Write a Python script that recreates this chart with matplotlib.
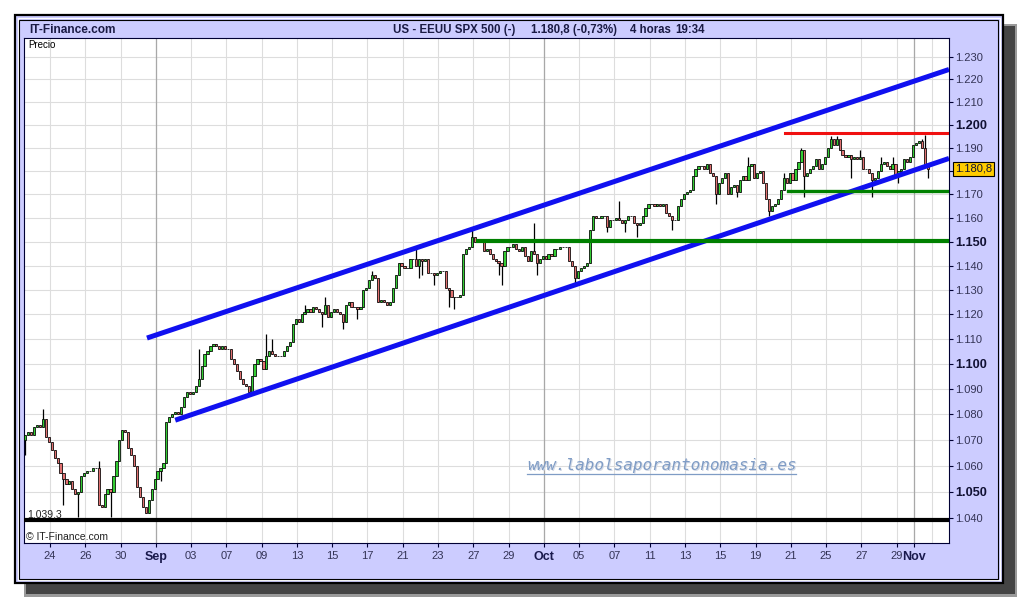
import matplotlib
matplotlib.use("Agg")
import matplotlib.pyplot as plt
from matplotlib.patches import Rectangle
from matplotlib.lines import Line2D
from matplotlib.ticker import FixedLocator, NullLocator

plt.rcParams['font.family'] = ['Liberation Sans', 'DejaVu Sans']

# SPX 500 - barras de 4 horas
first_open = 1070
closes = [
    1072, 1073, 1072, 1075, 1076, 1075, 1078, 1071, 1069, 1066,
    1063, 1061, 1057, 1055, 1053, 1054, 1051, 1049, 1050, 1056,
    1057, 1058, 1058, 1059, 1059, 1045, 1044, 1049, 1051, 1050,
    1056, 1062, 1070, 1074, 1073, 1067, 1064, 1060, 1052, 1048,
    1044, 1042, 1047, 1051, 1055, 1058, 1059, 1061, 1077, 1079,
    1080, 1081, 1080, 1083, 1087, 1089, 1088, 1089, 1091, 1094,
    1099, 1104, 1105, 1107, 1108, 1107, 1106, 1107, 1106, 1106,
    1102, 1100, 1097, 1094, 1092, 1091, 1089, 1095, 1100, 1102,
    1101, 1098, 1103, 1105, 1104, 1103, 1103, 1103, 1105, 1107,
    1109, 1116, 1118, 1117, 1120, 1121, 1122, 1121, 1123, 1122,
    1121, 1120, 1124, 1119, 1121, 1122, 1121, 1120, 1117, 1124,
    1125, 1123, 1123, 1122, 1123, 1130, 1131, 1134, 1136, 1135,
    1125, 1126, 1125, 1124, 1125, 1131, 1136, 1141, 1140, 1139,
    1139, 1143, 1143, 1140, 1143, 1142, 1143, 1137, 1137, 1136,
    1137, 1138, 1138, 1131, 1130, 1127, 1127, 1127, 1128, 1145,
    1147, 1148, 1152, 1150, 1150, 1150, 1146, 1147, 1145, 1143,
    1142, 1141, 1140, 1146, 1148, 1148, 1149, 1147, 1146, 1148,
    1144, 1142, 1146, 1145, 1141, 1143, 1144, 1143, 1145, 1144,
    1147, 1147, 1148, 1148, 1148, 1142, 1140, 1135, 1138, 1139,
    1140, 1141, 1155, 1161, 1160, 1160, 1161, 1161, 1156, 1159,
    1159, 1160, 1159, 1158, 1159, 1161, 1161, 1158, 1157, 1158,
    1161, 1164, 1166, 1166, 1165, 1166, 1165, 1166, 1162, 1161,
    1159, 1159, 1165, 1168, 1170, 1171, 1172, 1178, 1181, 1182,
    1182, 1181, 1183, 1179, 1178, 1170, 1175, 1177, 1179, 1170,
    1173, 1174, 1171, 1176, 1178, 1176, 1182, 1183, 1177, 1179,
    1180, 1175, 1168, 1163, 1165, 1166, 1168, 1172, 1177, 1175,
    1179, 1176, 1181, 1184, 1189, 1178, 1179, 1181, 1182, 1185,
    1181, 1183, 1186, 1190, 1194, 1191, 1194, 1189, 1187, 1186,
    1187, 1185, 1186, 1185, 1186, 1181, 1181, 1179, 1176, 1177,
    1180, 1183, 1184, 1182, 1181, 1183, 1178, 1180, 1181, 1185,
    1184, 1186, 1191, 1192, 1193, 1190, 1183, 1180.8,
]
# mechas largas (maximos / minimos que salen del cuerpo)
spike_highs = {6: 1082, 25: 1062, 59: 1106, 82: 1112, 84: 1110, 95: 1124,
               102: 1127, 118: 1138, 133: 1148, 152: 1155, 173: 1158,
               202: 1167, 246: 1186, 258: 1179, 264: 1190, 274: 1195,
               276: 1195, 284: 1189, 291: 1186, 295: 1186, 305: 1194,
               306: 1195.5}
spike_lows = {0: 1064, 13: 1045, 18: 1040.5, 29: 1040.5, 46: 1054, 76: 1088,
              101: 1115, 108: 1114, 113: 1118, 134: 1135, 135: 1136,
              139: 1132, 144: 1123, 146: 1122, 161: 1136, 162: 1132,
              174: 1136, 187: 1133, 198: 1154, 204: 1154, 208: 1152,
              220: 1155, 235: 1166, 242: 1169, 253: 1161, 265: 1169,
              281: 1177, 288: 1169, 297: 1175, 307: 1177}

# eje x: dias habiles desde el 24 de agosto
tick_days = [0, 2, 4, 6, 8, 10, 12, 14, 16, 18, 20, 22, 24, 26,
             28, 30, 32, 34, 36, 38, 40, 42, 44, 46, 48, 49]
tick_labels = ['24', '26', '30', 'Sep', '03', '07', '09', '13', '15', '17',
               '21', '23', '27', '29', 'Oct', '05', '07', '11', '13', '15',
               '19', '21', '25', '27', '29', 'Nov']
month_labels = ['Sep', 'Oct', 'Nov']
bars_per_day = 6
day0_bar = 8.4

# lineas de analisis dibujadas
channel_upper = ([41.4, 314.2], [1110.4, 1224.4])
channel_lower = ([51.0, 314.2], [1077.7, 1185.4])
resistance = (258.3, 1196.4)
support_hi = (259.5, 1171.4)
support_lo = (154.0, 1150.5)
floor_level = 1039.3

y_ticks = list(range(1040, 1240, 10))
bold_ticks = [1050, 1100, 1150, 1200]
hidden_tick = 1180  # tapado por la caja del ultimo precio
last_price = '1.180,8'

LAV = '#ccccff'
NAVY = '#1a1a44'

fig = plt.figure(figsize=(10.2, 6.0), dpi=100)
fig.patch.set_facecolor('white')

# fondo en coordenadas de pixel
bg = fig.add_axes([0, 0, 1, 1], zorder=-5)
bg.set_xlim(0, 1020)
bg.set_ylim(600, 0)
bg.axis('off')
bg.add_patch(Rectangle((24, 24), 993, 573, fc='#9a9a9a', ec='none'))
bg.add_patch(Rectangle((26, 26), 989, 568, fc='#444444', ec='none'))
bg.add_patch(Rectangle((15, 15), 988, 568, fc=LAV, ec='black', lw=1.6))
bg.add_patch(Rectangle((18, 18), 982, 562, fc='none', ec='white', lw=0.8))
bg.add_patch(Rectangle((19.5, 19.5), 979, 559, fc='none', ec='black', lw=0.8))

bg.text(29, 30, 'IT-Finance.com', fontsize=8.6, fontweight='bold',
        color=NAVY, va='center', ha='left')
for xp, s in [(393, 'US - EEUU SPX 500 (-)'), (531, '1.180,8 (-0,73%)'),
              (630, '4 horas'), (675, '19:34')]:
    bg.text(xp, 30, s, fontsize=8.3, fontweight='bold', color=NAVY,
            va='center', ha='left')

# grafico principal
ax = fig.add_axes([23.5 / 1020, 57 / 600, 925.5 / 1020, 505 / 600])
ax.set_facecolor('white')
ax.set_yscale('log')
ax.set_xlim(-0.6, 314.2)
ax.set_ylim(1030.6, 1238.5)

n = len(closes)
xs = list(range(n))
opens = [first_open] + closes[:-1]
highs = [spike_highs.get(i, max(opens[i], closes[i])) for i in xs]
lows = [spike_lows.get(i, min(opens[i], closes[i])) for i in xs]
body_lo = [min(o, c) for o, c in zip(opens, closes)]
body_h = [abs(c - o) for o, c in zip(opens, closes)]
cols = ['#33cc33' if c >= o else '#e07070' for o, c in zip(opens, closes)]

ax.vlines(xs, lows, highs, color='black', lw=0.9, zorder=3)
ax.bar(xs, body_h, bottom=body_lo, width=0.75, color=cols,
       edgecolor='black', linewidth=0.55, zorder=4)

# lineas de tendencia y niveles
ax.plot(*channel_upper, color='#1010f0', lw=3.6, solid_capstyle='butt', zorder=5)
ax.plot(*channel_lower, color='#1010f0', lw=3.6, solid_capstyle='butt', zorder=5)
ax.plot([resistance[0], 314.2], [resistance[1]] * 2, color='#f01010', lw=2.2, zorder=5)
ax.plot([support_hi[0], 314.2], [support_hi[1]] * 2, color='#008000', lw=2.4, zorder=5)
ax.plot([support_lo[0], 314.2], [support_lo[1]] * 2, color='#008000', lw=3.0, zorder=5)
ax.axhline(floor_level, color='black', lw=3.0, zorder=5)

# ejes
ax.yaxis.tick_right()
ax.yaxis.set_major_locator(FixedLocator(y_ticks))
ax.yaxis.set_minor_locator(NullLocator())
ax.set_yticklabels(['' if v == hidden_tick else f'1.{v - 1000:03d}' for v in y_ticks])
for v, lab in zip(y_ticks, ax.get_yticklabels()):
    if v in bold_ticks:
        lab.set_fontweight('bold')
        lab.set_fontsize(9.2)
        lab.set_color('#111133')
    else:
        lab.set_fontsize(8)
        lab.set_color('#333355')

xt = [day0_bar + bars_per_day * d for d in tick_days]
ax.set_xticks(xt)
ax.set_xticklabels(tick_labels)
for lab in ax.get_xticklabels():
    if lab.get_text() in month_labels:
        lab.set_fontweight('bold')
        lab.set_fontsize(9)
        lab.set_color('#1a1a4d')
    else:
        lab.set_fontsize(8)
        lab.set_color('#333355')

ax.tick_params(axis='y', direction='out', length=3, width=0.8,
               color='#000033', pad=1.5)
ax.tick_params(axis='x', direction='out', length=3, width=0.8,
               color='#000033', pad=2.5)
ax.grid(True, color='#dddddd', lw=0.8)
ax.set_axisbelow(True)
for d, lab in zip(tick_days, tick_labels):
    if lab in month_labels:
        ax.axvline(day0_bar + bars_per_day * d, color='#a8a8a8', lw=0.9, zorder=1)
ax.axvline(day0_bar + bars_per_day * 50, color='#dddddd', lw=0.8, zorder=0)
for sp in ax.spines.values():
    sp.set_color('#000033')
    sp.set_linewidth(0.8)

# textos sobre el grafico
T = bg.transData
fig.text(28, 45, 'Precio', transform=T, fontsize=7, color='black', va='center')
fig.text(27, 514.5, '1.039,3', transform=T, fontsize=7.5, color='#222222', va='center')
fig.text(26, 536.5, '\u00a9 IT-Finance.com', transform=T, fontsize=7.5,
         color='#222222', va='center')
fig.text(955, 168.5, last_price, transform=T, fontsize=8, color='#111133',
         va='center', ha='left',
         bbox=dict(boxstyle='square,pad=0.18', fc='#ffcc00', ec='black', lw=0.8))

wm = 'www.labolsaporantonomasia.es'
fig.text(528, 466.5, wm, transform=T, family='DejaVu Sans Mono', style='italic',
         fontsize=11.5, color='#d4dae6', va='center', ha='left')
fig.text(527, 465.5, wm, transform=T, family='DejaVu Sans Mono', style='italic',
         fontsize=11.5, color='#7f9cc5', va='center', ha='left')
fig.add_artist(Line2D([527, 796], [473.5, 473.5], transform=T,
                      color='#7f9cc5', lw=0.9))

fig.savefig('out.png', dpi=100)
